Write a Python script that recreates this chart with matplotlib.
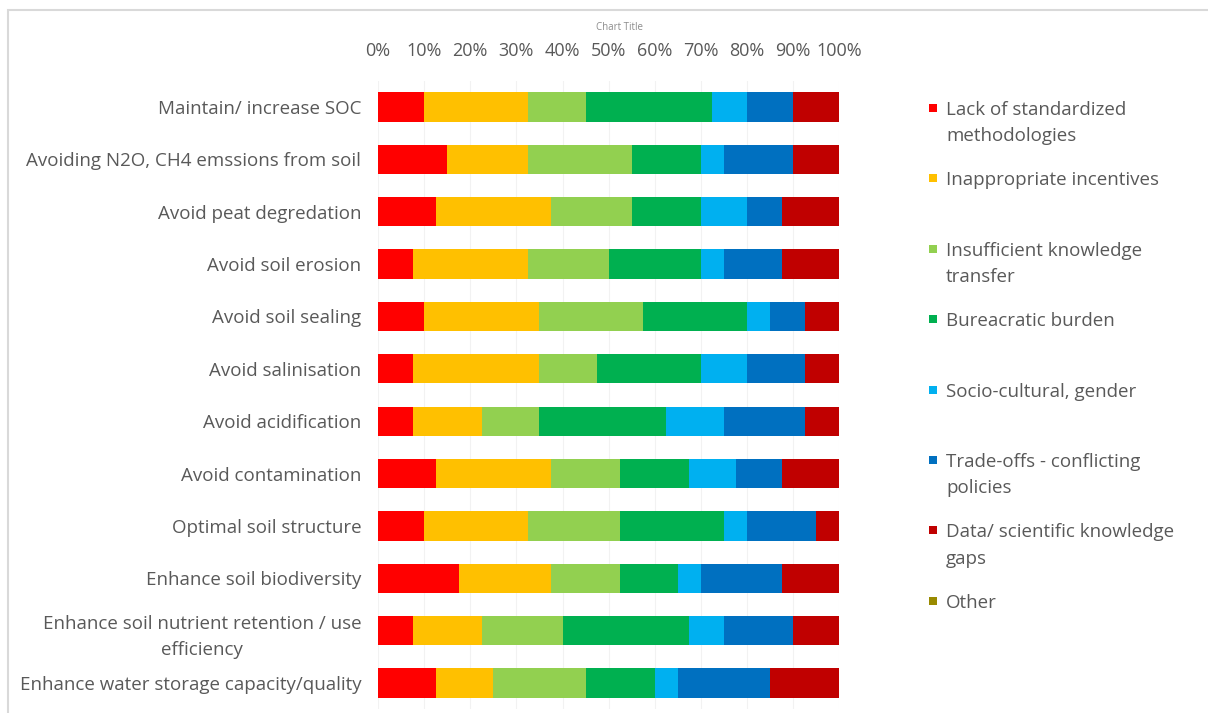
import matplotlib
matplotlib.use("Agg")
import matplotlib.pyplot as plt
import numpy as np
from matplotlib.patches import Rectangle

plt.rcParams['font.family'] = ['Open Sans', 'DejaVu Sans']

# categories, top to bottom
categories = [
    "Maintain/ increase SOC",
    "Avoiding N2O, CH4 emssions from soil",
    "Avoid peat degredation",
    "Avoid soil erosion",
    "Avoid soil sealing",
    "Avoid salinisation",
    "Avoid acidification",
    "Avoid contamination",
    "Optimal soil structure",
    "Enhance soil biodiversity",
    "Enhance soil nutrient retention / use\nefficiency",
    "Enhance water storage capacity/quality",
]

series_names = [
    "Lack of standardized\nmethodologies",
    "Inappropriate incentives",
    "Insufficient knowledge\ntransfer",
    "Bureacratic burden",
    "Socio-cultural, gender",
    "Trade-offs - conflicting\npolicies",
    "Data/ scientific knowledge\ngaps",
    "Other",
]
series_colors = ["#FF0000", "#FFC000", "#92D050", "#00B050",
                 "#00B0F0", "#0070C0", "#C00000", "#998A00"]

# share of answers (%) per barrier, one list per category
lack_methods   = [10, 15, 12.5, 7.5, 10, 7.5, 7.5, 12.5, 10, 17.5, 7.5, 12.5]
incentives     = [22.5, 17.5, 25, 25, 25, 27.5, 15, 25, 22.5, 20, 15, 12.5]
knowledge_tr   = [12.5, 22.5, 17.5, 17.5, 22.5, 12.5, 12.5, 15, 20, 15, 17.5, 20]
bureaucracy    = [27.5, 15, 15, 20, 22.5, 22.5, 27.5, 15, 22.5, 12.5, 27.5, 15]
socio_cultural = [7.5, 5, 10, 5, 5, 10, 12.5, 10, 5, 5, 7.5, 5]
trade_offs     = [10, 15, 7.5, 12.5, 7.5, 12.5, 17.5, 10, 15, 17.5, 15, 20]
data_gaps      = [10, 10, 12.5, 12.5, 7.5, 7.5, 7.5, 12.5, 5, 12.5, 10, 15]
other          = [0, 0, 0, 0, 0, 0, 0, 0, 0, 0, 0, 0]

values = [lack_methods, incentives, knowledge_tr, bureaucracy,
          socio_cultural, trade_offs, data_gaps, other]

W, H = 1208, 713
fig = plt.figure(figsize=(W / 100, H / 100), dpi=100)

# plot area (pixel positions of the original)
x0, x1 = 378, 839.3
y_top, y_bot = 80.8, 709.2
ax = fig.add_axes([x0 / W, 1 - y_bot / H, (x1 - x0) / W, (y_bot - y_top) / H])

grey = "#595959"
fs = 13.5
y_pos = np.arange(len(categories))
left = np.zeros(len(categories))
for vals, col in zip(values, series_colors):
    vals = np.array(vals, dtype=float)
    ax.barh(y_pos, vals, left=left, height=0.56, color=col, zorder=3)
    left += vals

ax.set_xlim(0, 100)
ax.set_ylim(len(categories) - 0.5, -0.5)
ax.set_yticks(y_pos)
ax.set_yticklabels(categories, multialignment='center', linespacing=1.6)
ax.set_xticks(np.arange(0, 101, 10))
ax.set_xticklabels([f"{t}%" for t in range(0, 101, 10)])
ax.xaxis.tick_top()
ax.tick_params(axis='x', length=0, pad=15, labelsize=13, colors=grey)
ax.tick_params(axis='y', length=0, pad=12, labelsize=fs, colors=grey)
ax.grid(axis='x', color="#f2f2f2", lw=0.8, zorder=0)
for s in ax.spines.values():
    s.set_visible(False)

fig.text(620 / W, 1 - 28 / H, "Chart Title", ha='center', va='center',
         fontsize=7, color="#8c8c8c")

# legend drawn by hand: one entry every ~70 px, marker next to the first line
for i, (name, col) in enumerate(zip(series_names, series_colors)):
    yc = 108 + 70.4 * i
    fig.add_artist(Rectangle((929 / W, 1 - (yc + 4) / H), 8 / W, 8 / H,
                             transform=fig.transFigure, color=col, lw=0))
    fig.text(946 / W, 1 - (yc - 7) / H, name, ha='left', va='top',
             fontsize=fs, color=grey, linespacing=1.6)

# light chart border of the original screenshot
fig.add_artist(Rectangle((8 / W, -0.05), 1.1, 1 - 10 / H + 0.05,
                         transform=fig.transFigure, fill=False,
                         edgecolor="#d9d9d9", lw=1.5))

fig.savefig("out.png", dpi=100, facecolor="white")
